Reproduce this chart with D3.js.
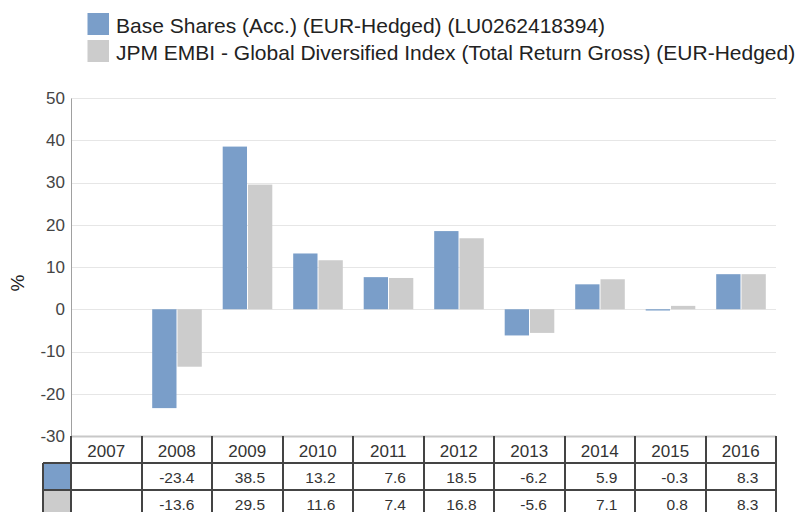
<!DOCTYPE html>
<html><head><meta charset="utf-8">
<script src="https://cdn.jsdelivr.net/npm/d3@7"></script>
<style>body{margin:0;background:#fff;}svg{display:block;font-family:"Liberation Sans",Arial,sans-serif;}</style>
</head><body>
<svg id="c" width="798" height="512"></svg>
<script>
const years = ["2007","2008","2009","2010","2011","2012","2013","2014","2015","2016"];
const baseShares = [null, -23.4, 38.5, 13.2, 7.6, 18.5, -6.2, 5.9, -0.3, 8.3];
const benchmark = [null, -13.6, 29.5, 11.6, 7.4, 16.8, -5.6, 7.1, 0.8, 8.3];
const seriesNames = ["Base Shares (Acc.) (EUR-Hedged) (LU0262418394)", "JPM EMBI - Global Diversified Index (Total Return Gross) (EUR-Hedged)"];
const colors = ["#7a9ec9", "#cccccc"];
const yTicks = [-30, -20, -10, 0, 10, 20, 30, 40, 50];

const svg = d3.select("#c");
const L = 71, R = 776, T = 98, B = 436;
const x = d3.scaleBand().domain(years).range([L, R]).paddingInner(0).paddingOuter(0);
const y = d3.scaleLinear().domain([-30, 50]).range([B, T]);

// legend
const leg = svg.append("g");
seriesNames.forEach((n, i) => {
  leg.append("rect").attr("x", 87.5).attr("y", 13 + i * 27).attr("width", 21.5).attr("height", 22).attr("fill", colors[i]);
  leg.append("text").attr("x", 116).attr("y", 32.5 + i * 27).attr("font-size", 21).attr("fill", "#222").text(n);
});

// gridlines
svg.append("g").selectAll("line").data(yTicks).join("line")
  .attr("x1", L).attr("x2", R).attr("y1", d => Math.round(y(d)) + 0.5).attr("y2", d => Math.round(y(d)) + 0.5)
  .attr("stroke", d => d === -30 ? "#c8c8c8" : "#e6e6e6").attr("stroke-width", d => d === -30 ? 2 : 1);

// y axis
const yAxis = svg.append("g").attr("transform", `translate(${L},0)`)
  .call(d3.axisLeft(y).tickValues(yTicks).tickSize(0).tickPadding(6).tickFormat(d => String(d)));
yAxis.select(".domain").attr("stroke", "#a0a0a0");
yAxis.selectAll("text").attr("font-size", 17).attr("fill", "#444").attr("font-family", "Liberation Sans, Arial, sans-serif");

svg.append("text").attr("transform", "translate(24,283) rotate(-90)").attr("text-anchor", "middle")
  .attr("font-size", 19).attr("fill", "#222").text("%");

// bars
const bw = 24.3, pad = 10.7, gap = 1;
[baseShares, benchmark].forEach((vals, si) => {
  svg.append("g").selectAll("rect").data(years.map((yr, i) => ({yr, v: vals[i]})).filter(d => d.v !== null)).join("rect")
    .attr("x", d => x(d.yr) + pad + si * (bw + gap))
    .attr("width", bw)
    .attr("y", d => y(Math.max(0, d.v)))
    .attr("height", d => Math.max(1, Math.abs(y(d.v) - y(0))))
    .attr("fill", colors[si]);
});

// table
const rowH = 27, tTop = 436;
const tbl = svg.append("g");
const dark = "#444";
tbl.selectAll("text.h").data(years).join("text").attr("class", "h")
  .attr("x", d => x(d) + x.bandwidth() / 2).attr("y", tTop + 21).attr("text-anchor", "middle")
  .attr("font-size", 17).attr("fill", "#333").text(d => d);
[baseShares, benchmark].forEach((vals, si) => {
  const ry = tTop + rowH * (si + 1);
  tbl.append("rect").attr("x", 43).attr("y", ry).attr("width", L - 43).attr("height", rowH).attr("fill", colors[si]);
  tbl.selectAll("text.v" + si).data(years.map((yr, i) => ({yr, v: vals[i]}))).join("text").attr("class", "v" + si)
    .attr("x", d => x(d.yr) + x.bandwidth() - 17.5).attr("y", ry + 20).attr("text-anchor", "end")
    .attr("font-size", 15.5).attr("fill", "#333").text(d => d.v === null ? "" : d.v.toFixed(1));
});
[1, 2].forEach(k => {
  tbl.append("line").attr("x1", 43).attr("x2", R + 1).attr("y1", tTop + rowH * k).attr("y2", tTop + rowH * k)
    .attr("stroke", dark).attr("stroke-width", 2);
});
const vx = years.map(yr => x(yr)).concat([R]);
tbl.selectAll("line.v").data(vx).join("line").attr("class", "v")
  .attr("x1", d => Math.round(d)).attr("x2", d => Math.round(d)).attr("y1", tTop).attr("y2", 512)
  .attr("stroke", dark).attr("stroke-width", 2);
tbl.append("line").attr("x1", 43).attr("x2", 43).attr("y1", tTop + rowH).attr("y2", 512).attr("stroke", dark).attr("stroke-width", 2);
</script>
</body></html>
